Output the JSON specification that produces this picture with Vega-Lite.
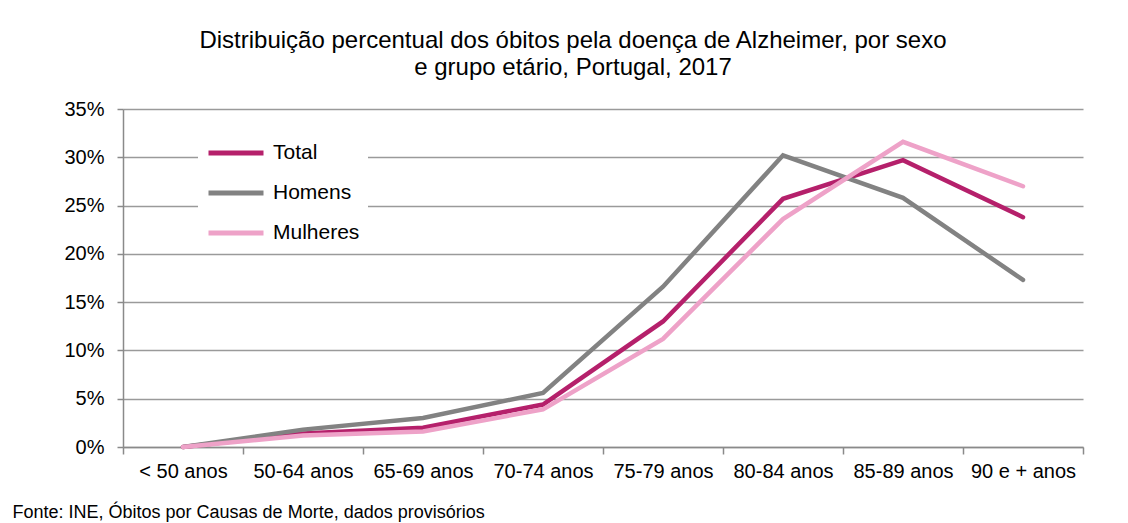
{
  "$schema": "https://vega.github.io/schema/vega-lite/v6.json",
  "width": 960,
  "height": 338,
  "autosize": "none",
  "padding": {"left": 123, "top": 109, "right": 45, "bottom": 76},
  "background": "white",
  "title": {
    "text": ["Distribuição percentual dos óbitos pela doença de Alzheimer, por sexo", "e grupo etário, Portugal, 2017"],
    "fontSize": 24,
    "font": "Liberation Sans",
    "fontWeight": "normal",
    "color": "#000000",
    "anchor": "middle",
    "dx": -30,
    "offset": 19,
    "lineHeight": 27
  },
  "config": {
    "font": "Liberation Sans",
    "view": {"stroke": null}
  },
  "data": {
    "values": [
      {"grupo": "< 50 anos", "serie": "Total", "v": 0.0},
      {"grupo": "50-64 anos", "serie": "Total", "v": 0.014},
      {"grupo": "65-69 anos", "serie": "Total", "v": 0.020},
      {"grupo": "70-74 anos", "serie": "Total", "v": 0.044},
      {"grupo": "75-79 anos", "serie": "Total", "v": 0.130},
      {"grupo": "80-84 anos", "serie": "Total", "v": 0.257},
      {"grupo": "85-89 anos", "serie": "Total", "v": 0.297},
      {"grupo": "90 e + anos", "serie": "Total", "v": 0.238},
      {"grupo": "< 50 anos", "serie": "Homens", "v": 0.0},
      {"grupo": "50-64 anos", "serie": "Homens", "v": 0.018},
      {"grupo": "65-69 anos", "serie": "Homens", "v": 0.030},
      {"grupo": "70-74 anos", "serie": "Homens", "v": 0.056},
      {"grupo": "75-79 anos", "serie": "Homens", "v": 0.166},
      {"grupo": "80-84 anos", "serie": "Homens", "v": 0.302},
      {"grupo": "85-89 anos", "serie": "Homens", "v": 0.258},
      {"grupo": "90 e + anos", "serie": "Homens", "v": 0.173},
      {"grupo": "< 50 anos", "serie": "Mulheres", "v": 0.0},
      {"grupo": "50-64 anos", "serie": "Mulheres", "v": 0.012},
      {"grupo": "65-69 anos", "serie": "Mulheres", "v": 0.016},
      {"grupo": "70-74 anos", "serie": "Mulheres", "v": 0.039},
      {"grupo": "75-79 anos", "serie": "Mulheres", "v": 0.112},
      {"grupo": "80-84 anos", "serie": "Mulheres", "v": 0.236},
      {"grupo": "85-89 anos", "serie": "Mulheres", "v": 0.316},
      {"grupo": "90 e + anos", "serie": "Mulheres", "v": 0.270}
    ]
  },
  "mark": {"type": "line", "strokeWidth": 4.5, "strokeCap": "round", "strokeJoin": "miter"},
  "encoding": {
    "x": {
      "field": "grupo",
      "type": "ordinal",
      "sort": null,
      "bandPosition": 0.5,
      "scale": {"type": "band", "paddingInner": 0, "paddingOuter": 0},
      "axis": {
        "title": "Fonte: INE, Óbitos por Causas de Morte, dados provisórios",
        "titleFont": "Liberation Sans",
        "titleFontSize": 18,
        "titleFontWeight": "normal",
        "titleColor": "#000000",
        "titleAlign": "left",
        "titleAnchor": "start",
        "titleBaseline": "alphabetic",
        "titleX": -111,
        "titleY": 70,
        "labelAngle": 0,
        "labelFontSize": 20,
        "labelColor": "#000000",
        "labelPadding": 7,
        "tickBand": "extent",
        "tickSize": 7,
        "tickColor": "#8a8a8a",
        "tickWidth": 1.5,
        "domainColor": "#8a8a8a",
        "domainWidth": 1.5,
        "grid": false
      }
    },
    "y": {
      "field": "v",
      "type": "quantitative",
      "scale": {"domain": [0, 0.35]},
      "axis": {
        "title": null,
        "format": ".0%",
        "values": [0, 0.05, 0.1, 0.15, 0.2, 0.25, 0.3, 0.35],
        "labelFontSize": 20,
        "labelColor": "#000000",
        "labelPadding": 13,
        "tickSize": 6,
        "tickColor": "#8a8a8a",
        "tickWidth": 1.5,
        "domainColor": "#8a8a8a",
        "domainWidth": 1.5,
        "gridColor": "#9a9a9a",
        "gridWidth": 1.5
      }
    },
    "color": {
      "field": "serie",
      "type": "nominal",
      "scale": {"domain": ["Total", "Homens", "Mulheres"], "range": ["#b5206b", "#828282", "#eea2c8"]},
      "legend": {
        "title": null,
        "orient": "none",
        "legendX": 75,
        "legendY": 6,
        "fillColor": "white",
        "padding": 8,
        "symbolType": "stroke",
        "symbolSize": 3025,
        "symbolStrokeWidth": 5,
        "labelFontSize": 21,
        "labelColor": "#000000",
        "labelOffset": 7,
        "rowPadding": 0
      }
    },
    "order": {"field": "serie"}
  }
}
